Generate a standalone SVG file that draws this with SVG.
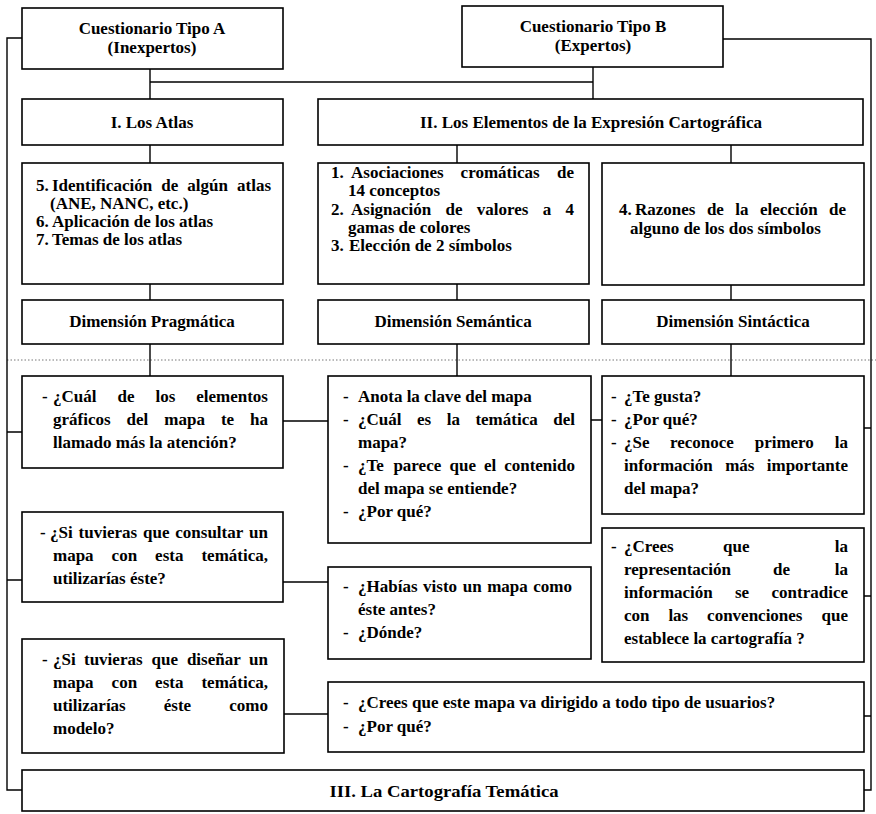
<svg xmlns="http://www.w3.org/2000/svg" width="876" height="814" viewBox="0 0 876 814">
<style>
.box{fill:#fff;stroke:#000;stroke-width:1.6}
.t{font-family:"Liberation Serif","Times New Roman",serif;font-weight:bold;font-size:17px;fill:#000}
.c{text-anchor:middle}
.e{text-anchor:end}
.ln{fill:none;stroke:#000;stroke-width:1.4}
.dot{fill:none;stroke:#777;stroke-width:1;stroke-dasharray:1.5 2}
</style>
<rect x="0" y="0" width="876" height="814" fill="#fff"/>
<g id="connectors">
<line class="dot" x1="7" y1="360" x2="876" y2="360"/>
<path class="ln" d="M22 38H7V790H22 M7 432H22 M7 580H22"/>
<path class="ln" d="M723 39H871V790H864 M864 428H871 M864 596H871 M864 716H871"/>
<path class="ln" d="M150 69V99 M150 82H593 M593 67V99"/>
<path class="ln" d="M150 145V163 M457 145V163 M731 145V163"/>
<path class="ln" d="M150 284V300 M457 284V300 M731 285V300"/>
<path class="ln" d="M150 344V376 M457 344V376 M731 344V376"/>
<path class="ln" d="M283 421H328 M591 420H602 M283 582H328 M284 714H328"/>
</g>
<g id="nA"><rect class="box" x="22" y="8" width="261" height="61"/>
<text class="t c" x="152" y="34">Cuestionario Tipo A</text>
<text class="t c" x="152" y="53">(Inexpertos)</text></g>
<g id="nB"><rect class="box" x="462" y="6" width="261" height="61"/>
<text class="t c" x="593" y="32">Cuestionario Tipo B</text>
<text class="t c" x="593" y="51">(Expertos)</text></g>
<g id="nI"><rect class="box" x="22" y="99" width="261" height="46"/>
<text class="t c" x="152" y="128">I. Los Atlas</text></g>
<g id="nII"><rect class="box" x="318" y="99" width="545" height="46"/>
<text class="t c" x="591" y="128">II. Los Elementos de la Expresión Cartográfica</text></g>
<g id="n57"><rect class="box" x="22" y="163" width="261" height="121"/>
<text class="t" y="191"><tspan x="36">5.</tspan> <tspan x="52">Identificación</tspan> <tspan x="161.2">de</tspan> <tspan x="187.3">algún</tspan> <tspan x="271" text-anchor="end">atlas</tspan></text>
<text class="t" x="50" y="209">(ANE, NANC, etc.)</text>
<text class="t" y="227"><tspan x="36">6.</tspan> <tspan x="52">Aplicación de los atlas</tspan></text>
<text class="t" y="245"><tspan x="36">7.</tspan> <tspan x="52">Temas de los atlas</tspan></text></g>
<g id="n13"><rect class="box" x="318" y="163" width="271" height="121"/>
<text class="t" y="178"><tspan x="331">1.</tspan> <tspan x="351">Asociaciones</tspan> <tspan x="460.6">cromáticas</tspan> <tspan x="574" text-anchor="end">de</tspan></text>
<text class="t" x="348" y="196">14 conceptos</text>
<text class="t" y="215"><tspan x="331">2.</tspan> <tspan x="351">Asignación</tspan> <tspan x="445.5">de</tspan> <tspan x="476.7">valores</tspan> <tspan x="542.8">a</tspan> <tspan x="574" text-anchor="end">4</tspan></text>
<text class="t" x="348" y="233">gamas de colores</text>
<text class="t" y="251"><tspan x="331">3.</tspan> <tspan x="349">Elección de 2 símbolos</tspan></text></g>
<g id="n4"><rect class="box" x="602" y="163" width="262" height="122"/>
<text class="t" y="215"><tspan x="619">4.</tspan> <tspan x="635">Razones</tspan> <tspan x="706.9">de</tspan> <tspan x="735.3">la</tspan> <tspan x="760">elección</tspan> <tspan x="846" text-anchor="end">de</tspan></text>
<text class="t" x="630" y="234">alguno de los dos símbolos</text></g>
<g id="nPrag"><rect class="box" x="22" y="300" width="261" height="44"/>
<text class="t c" x="152" y="327">Dimensión Pragmática</text></g>
<g id="nSem"><rect class="box" x="318" y="300" width="271" height="44"/>
<text class="t c" x="453" y="327">Dimensión Semántica</text></g>
<g id="nSin"><rect class="box" x="602" y="300" width="262" height="44"/>
<text class="t c" x="733" y="327">Dimensión Sintáctica</text></g>
<g id="q1"><rect class="box" x="22" y="376" width="261" height="92"/>
<text class="t" y="402"><tspan x="42">-</tspan> <tspan x="53">¿Cuál</tspan> <tspan x="117.5">de</tspan> <tspan x="155.5">los</tspan> <tspan x="268" text-anchor="end">elementos</tspan></text>
<text class="t" y="425"><tspan x="53">gráficos</tspan> <tspan x="126.6">del</tspan> <tspan x="164.3">mapa</tspan> <tspan x="220.9">te</tspan> <tspan x="268" text-anchor="end">ha</tspan></text>
<text class="t" x="53" y="448">llamado más la atención?</text></g>
<g id="q2"><rect class="box" x="22" y="512" width="261" height="90"/>
<text class="t" y="538"><tspan x="40">-</tspan> <tspan x="50">¿Si</tspan> <tspan x="78.6">tuvieras</tspan> <tspan x="143">que</tspan> <tspan x="175.3">consultar</tspan> <tspan x="268" text-anchor="end">un</tspan></text>
<text class="t" y="561"><tspan x="53">mapa</tspan> <tspan x="111.6">con</tspan> <tspan x="155.1">esta</tspan> <tspan x="268" text-anchor="end">temática,</tspan></text>
<text class="t" x="53" y="584">utilizarías éste?</text></g>
<g id="q3"><rect class="box" x="22" y="639" width="262" height="114"/>
<text class="t" y="665"><tspan x="42">-</tspan> <tspan x="53">¿Si</tspan> <tspan x="84">tuvieras</tspan> <tspan x="151.5">que</tspan> <tspan x="186.9">diseñar</tspan> <tspan x="268" text-anchor="end">un</tspan></text>
<text class="t" y="688"><tspan x="53">mapa</tspan> <tspan x="111.6">con</tspan> <tspan x="155.1">esta</tspan> <tspan x="268" text-anchor="end">temática,</tspan></text>
<text class="t" y="711"><tspan x="53">utilizarías</tspan> <tspan x="163.8">éste</tspan> <tspan x="268" text-anchor="end">como</tspan></text>
<text class="t" x="53" y="734">modelo?</text></g>
<g id="s1"><rect class="box" x="328" y="376" width="263" height="167"/>
<text class="t" y="402"><tspan x="343">-</tspan> <tspan x="358">Anota la clave del mapa</tspan></text>
<text class="t" y="425"><tspan x="343">-</tspan> <tspan x="358">¿Cuál</tspan> <tspan x="417">es</tspan> <tspan x="446.7">la</tspan> <tspan x="475.4">temática</tspan> <tspan x="575" text-anchor="end">del</tspan></text>
<text class="t" x="358" y="448">mapa?</text>
<text class="t" y="471"><tspan x="343">-</tspan> <tspan x="358">¿Te</tspan> <tspan x="393.4">parece</tspan> <tspan x="449.5">que</tspan> <tspan x="484">el</tspan> <tspan x="575" text-anchor="end">contenido</tspan></text>
<text class="t" x="358" y="494">del mapa se entiende?</text>
<text class="t" y="517"><tspan x="343">-</tspan> <tspan x="358">¿Por qué?</tspan></text></g>
<g id="s2"><rect class="box" x="328" y="567" width="263" height="92"/>
<text class="t" y="592"><tspan x="343">-</tspan> <tspan x="358">¿Habías</tspan> <tspan x="423.1">visto</tspan> <tspan x="462.7">un</tspan> <tspan x="487.2">mapa</tspan> <tspan x="572" text-anchor="end">como</tspan></text>
<text class="t" x="358" y="615">éste antes?</text>
<text class="t" y="638"><tspan x="343">-</tspan> <tspan x="358">¿Dónde?</tspan></text></g>
<g id="s3"><rect class="box" x="328" y="682" width="536" height="70"/>
<text class="t" y="708"><tspan x="343">-</tspan> <tspan x="358">¿Crees que este mapa va dirigido a todo tipo de usuarios?</tspan></text>
<text class="t" y="732"><tspan x="343">-</tspan> <tspan x="358">¿Por qué?</tspan></text></g>
<g id="t1"><rect class="box" x="602" y="376" width="262" height="138"/>
<text class="t" y="402"><tspan x="611">-</tspan> <tspan x="624">¿Te gusta?</tspan></text>
<text class="t" y="425"><tspan x="611">-</tspan> <tspan x="624">¿Por qué?</tspan></text>
<text class="t" y="448"><tspan x="611">-</tspan> <tspan x="624">¿Se</tspan> <tspan x="670">reconoce</tspan> <tspan x="754.7">primero</tspan> <tspan x="848" text-anchor="end">la</tspan></text>
<text class="t" y="471"><tspan x="624">información</tspan> <tspan x="725.2">más</tspan> <tspan x="848" text-anchor="end">importante</tspan></text>
<text class="t" x="624" y="494">del mapa?</text></g>
<g id="t2"><rect class="box" x="602" y="528" width="262" height="134"/>
<text class="t" y="552"><tspan x="611">-</tspan> <tspan x="624">¿Crees</tspan> <tspan x="723">que</tspan> <tspan x="848" text-anchor="end">la</tspan></text>
<text class="t" y="575"><tspan x="624">representación</tspan> <tspan x="773">de</tspan> <tspan x="848" text-anchor="end">la</tspan></text>
<text class="t" y="598"><tspan x="624">información</tspan> <tspan x="735">se</tspan> <tspan x="848" text-anchor="end">contradice</tspan></text>
<text class="t" y="621"><tspan x="624">con</tspan> <tspan x="668.4">las</tspan> <tspan x="707.1">convenciones</tspan> <tspan x="848" text-anchor="end">que</tspan></text>
<text class="t" x="624" y="644">establece la cartografía ?</text></g>
<g id="nIII"><rect class="box" x="22" y="770" width="842" height="41"/>
<text class="t c" x="444" y="797" textLength="229" lengthAdjust="spacingAndGlyphs">III. La Cartografía Temática</text></g>
</svg>
